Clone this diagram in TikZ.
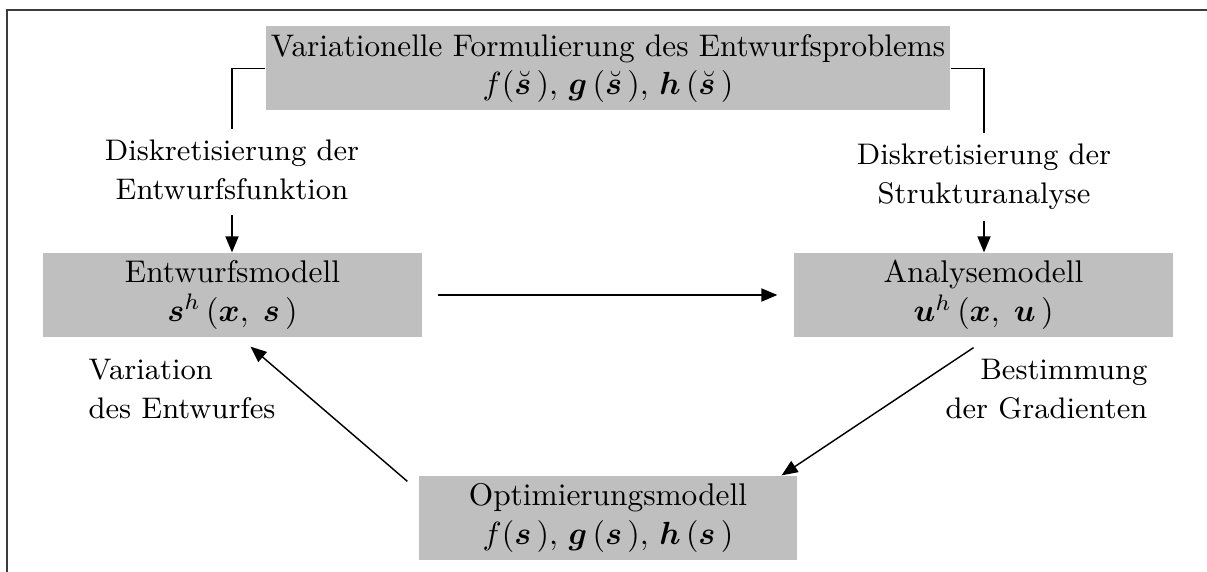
\documentclass[tikz,border=0pt]{standalone}
\usepackage{amsmath,bm}
\usetikzlibrary{arrows.meta}
\definecolor{boxgray}{RGB}{191,191,191}
\definecolor{framegray}{RGB}{60,60,60}
\begin{document}
\begin{tikzpicture}[x=0.3125pt,y=-0.3125pt,
  box/.style={fill=boxgray,inner sep=0pt,minimum height=84*0.3125pt,align=center,font=\fontsize{9.8}{12.2}\selectfont},
  lbl/.style={align=center,font=\fontsize{9.3}{12.2}\selectfont},
  conn/.style={line width=0.45pt},
  arr/.style={line width=0.45pt,-{Triangle[length=5pt,width=4.1pt]}}]
\useasboundingbox (0,0) rectangle (1207,572);
\draw[framegray,line width=0.7pt] (7,575) -- (7,10) -- (1210,10);
\node[box,minimum width=684*0.3125pt,font=\fontsize{9.75}{11.8}\selectfont] (top) at (608,68.5)
  {Variationelle Formulierung des Entwurfsproblems\\
   $f(\breve{\bm{s}}\,),\,\bm{g}\,(\breve{\bm{s}}\,),\,\bm{h}\,(\breve{\bm{s}}\,)$};
\node[box,minimum width=379*0.3125pt] (em) at (232.5,295)
  {Entwurfsmodell\\ $\bm{s}^h\,(\bm{x},\;\bm{s}\,)$};
\node[box,minimum width=379*0.3125pt] (am) at (983.5,295)
  {Analysemodell\\ $\bm{u}^h\,(\bm{x},\;\bm{u}\,)$};
\node[box,minimum width=378*0.3125pt] (om) at (608,518)
  {Optimierungsmodell\\ $f(\bm{s}\,),\,\bm{g}\,(\bm{s}\,),\,\bm{h}\,(\bm{s}\,)$};
\node[lbl] (dl) at (232,170) {Diskretisierung der\\Entwurfsfunktion};
\node[lbl] (dr) at (984,177) {Diskretisierung der\\Strukturanalyse};
\node[lbl,align=left,anchor=west,inner sep=0pt] (vl) at (88,389) {Variation\\des Entwurfes};
\node[lbl,align=right,anchor=east,inner sep=0pt] (br) at (1148,389) {Bestimmung\\der Gradienten};
\draw[conn] (top.west) -| (dl.north);
\draw[conn] (top.east) -| (dr.north);
\draw[arr,shorten <=4*0.3125pt] (dl.south) -- (dl.south |- em.north);
\draw[arr] (dr.south) -- (dr.south |- am.north);
\draw[arr,shorten <=15*0.3125pt,shorten >=16*0.3125pt] (em.east) -- (am.west);
\draw[arr] ([shift={(-10,10)}]am.south) -- ([shift={(-16,0)}]om.north east);
\draw[arr] ([shift={(-11,6)}]om.north west) -- ([shift={(18,9)}]em.south);
\end{tikzpicture}
\end{document}
